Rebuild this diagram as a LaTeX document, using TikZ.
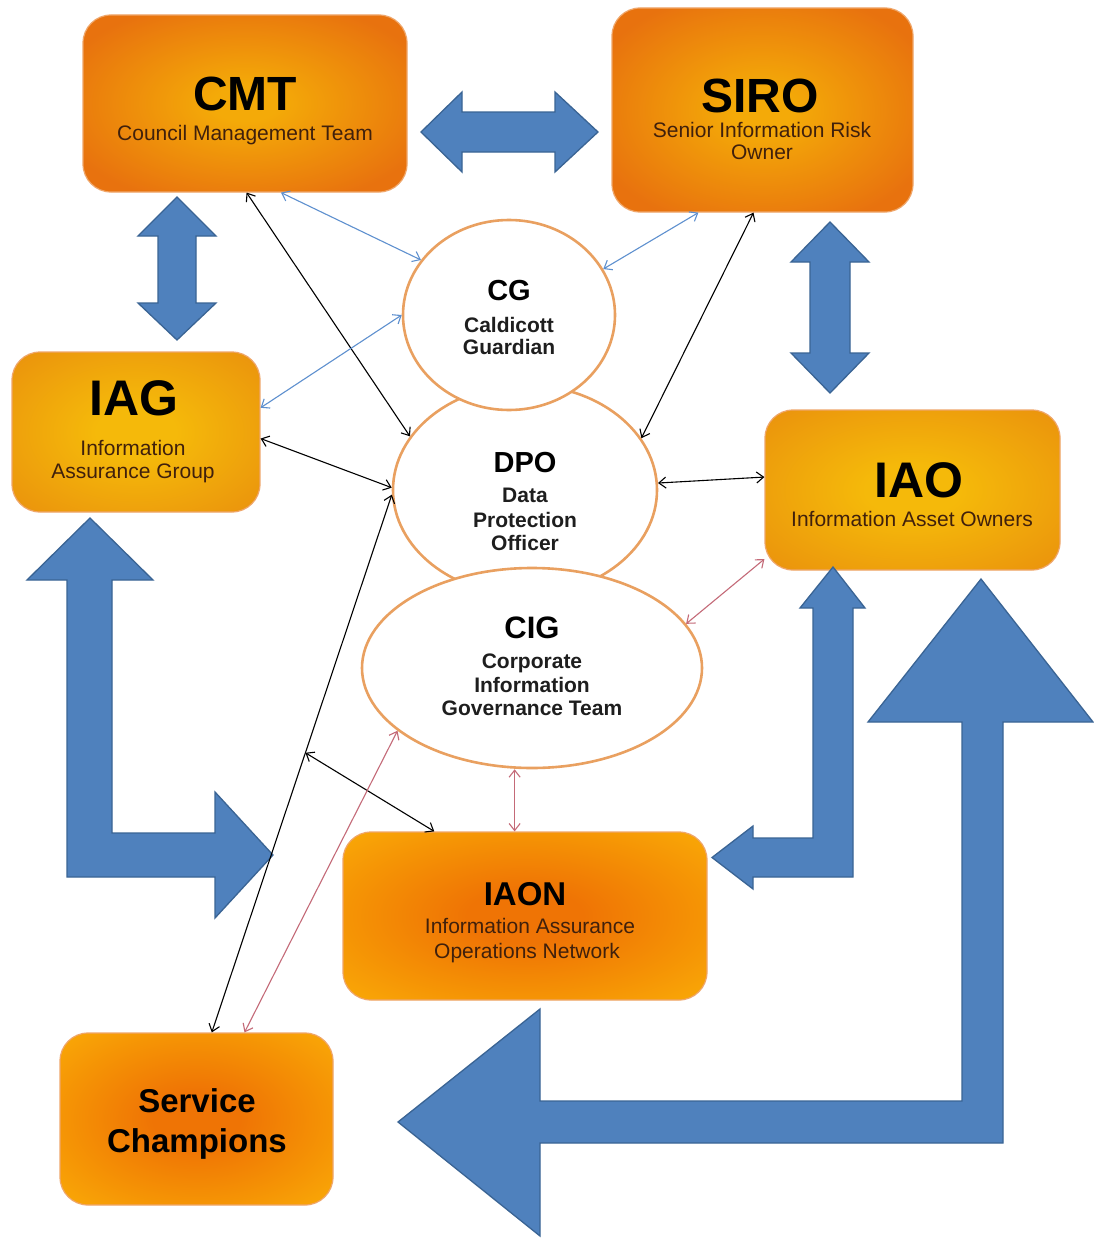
\documentclass[tikz,border=0pt]{standalone}
\usepackage{fontspec}
\setmainfont{Liberation Sans}
\usetikzlibrary{shapes.geometric,arrows.meta,calc}
\definecolor{tA}{HTML}{F4AA08}
\definecolor{tB}{HTML}{E8720E}
\definecolor{mA}{HTML}{F5B90A}
\definecolor{mB}{HTML}{E6840E}
\definecolor{bA}{HTML}{EF7405}
\definecolor{bB}{HTML}{FDBC06}
\definecolor{boxedge}{HTML}{EFA66A}
\definecolor{elledge}{HTML}{E9A060}
\definecolor{bigblue}{HTML}{4F81BD}
\definecolor{bigblueedge}{HTML}{3A6494}
\definecolor{thinblue}{HTML}{5E90CF}
\definecolor{thinred}{HTML}{C46A78}
\definecolor{subc}{HTML}{40200C}
\definecolor{elltext}{HTML}{1E1E1E}
\pgfdeclareradialshading{topshade}{\pgfpointorigin}{color(0bp)=(tA); color(5bp)=(tA); color(30bp)=(tB); color(80bp)=(tB)}
\pgfdeclareradialshading{midshade}{\pgfpointorigin}{color(0bp)=(mA); color(8bp)=(mA); color(45bp)=(mB); color(80bp)=(mB)}
\pgfdeclareradialshading{lowshade}{\pgfpointorigin}{color(0bp)=(bA); color(8bp)=(bA); color(45bp)=(bB); color(80bp)=(bB)}
\tikzset{
  box/.style={rectangle, rounded corners=28pt, draw=boxedge, line width=1.2pt, shade, inner sep=0pt},
  topbox/.style={box, shading=topshade},
  midbox/.style={box, shading=midshade},
  lowbox/.style={box, shading=lowshade},
  ell/.style={ellipse, draw=elledge, line width=2.6pt, fill=white, inner sep=0pt},
  title/.style={font=\fontsize{48}{50}\selectfont\bfseries, text=black, inner sep=0pt, anchor=base},
  sub/.style={font=\fontsize{21}{24}\selectfont, text=subc, inner sep=0pt, anchor=base},
  etitle/.style={font=\fontsize{29}{32}\selectfont\bfseries, text=black, inner sep=0pt, anchor=base},
  esub/.style={font=\fontsize{21}{24}\selectfont\bfseries, text=elltext, inner sep=0pt, anchor=base},
  bigarrow/.style={fill=bigblue, draw=bigblueedge, line width=1.3pt, line join=miter},
  blk/.style={draw=black, line width=1.1pt, <->, >={Straight Barb[length=7pt,width=11pt]}},
  blu/.style={draw=thinblue, line width=1.1pt, <->, >={Straight Barb[length=7pt,width=11pt]}},
  rd/.style={draw=thinred, line width=1.1pt, <->, >={Straight Barb[length=7pt,width=11pt]}}
}
\begin{document}
\begin{tikzpicture}[x=1pt,y=-1pt]
\useasboundingbox (0,0) rectangle (1093,1239);
\fill[white] (0,0) rectangle (1093,1239);

% boxes
\node[topbox, minimum width=324pt, minimum height=177pt] (cmt) at (245,103.5) {};
\node[topbox, minimum width=301pt, minimum height=204pt] (siro) at (762.5,110) {};
\node[midbox, minimum width=248pt, minimum height=160pt] (iag) at (136,432) {};
\node[midbox, minimum width=295pt, minimum height=160pt] (iao) at (912.5,490) {};
\node[lowbox, minimum width=364pt, minimum height=168pt] (iaon) at (525,916) {};
\node[lowbox, minimum width=273pt, minimum height=172pt] (sc) at (196.5,1119) {};

% ellipses
\node[ell, minimum width=264pt, minimum height=210pt] (dpo) at (525,490) {};
\node[ell, minimum width=212pt, minimum height=190pt] (cg) at (509,315) {};
\node[ell, minimum width=340pt, minimum height=200pt] (cig) at (532,668) {};

% texts
\node[title] (cmt-t) at (245,110) {CMT};
\node[sub] (cmt-s) at (245,140) {Council Management Team};
\node[title] (siro-t) at (760,112) {SIRO};
\node[sub] (siro-s1) at (762,137) {Senior Information Risk};
\node[sub] (siro-s2) at (762,159) {Owner};
\node[title, font=\fontsize{50}{52}\selectfont\bfseries] (iag-t) at (134,415) {IAG};
\node[sub] (iag-s1) at (133,455) {Information};
\node[sub] (iag-s2) at (133,478) {Assurance Group};
\node[title, font=\fontsize{50}{52}\selectfont\bfseries] (iao-t) at (919,497) {IAO};
\node[sub] (iao-s) at (912,526) {Information Asset Owners};
\node[title, font=\fontsize{33}{36}\selectfont\bfseries] (iaon-t) at (525,905) {IAON};
\node[sub] (iaon-s1) at (530,933) {Information Assurance};
\node[sub] (iaon-s2) at (527,958) {Operations Network};
\node[title, font=\fontsize{33}{36}\selectfont\bfseries] (sc-t1) at (197,1112) {Service};
\node[title, font=\fontsize{33}{36}\selectfont\bfseries] (sc-t2) at (197,1152) {Champions};

\node[etitle] (cg-t) at (509,300) {CG};
\node[esub] (cg-s1) at (509,332) {Caldicott};
\node[esub] (cg-s2) at (509,354) {Guardian};
\node[etitle] (dpo-t) at (525,472) {DPO};
\node[esub] (dpo-s1) at (525,502) {Data};
\node[esub] (dpo-s2) at (525,527) {Protection};
\node[esub] (dpo-s3) at (525,550) {Officer};
\node[etitle, font=\fontsize{31}{34}\selectfont\bfseries] (cig-t) at (532,638) {CIG};
\node[esub] (cig-s1) at (532,668) {Corporate};
\node[esub] (cig-s2) at (532,692) {Information};
\node[esub] (cig-s3) at (532,715) {Governance Team};

% big block arrows
\draw[bigarrow] (421,132) -- (462,92) -- (462,112) -- (555,112) -- (555,92) -- (598,132)
  -- (555,172) -- (555,152) -- (462,152) -- (462,172) -- cycle;
\draw[bigarrow] (177,197) -- (216,236) -- (196,236) -- (196,303) -- (216,303) -- (177,340)
  -- (138,303) -- (158,303) -- (158,236) -- (138,236) -- cycle;
\draw[bigarrow] (830,222) -- (869,262) -- (850,262) -- (850,353) -- (869,353) -- (830,393)
  -- (791,353) -- (810,353) -- (810,262) -- (791,262) -- cycle;
\draw[bigarrow] (90,518) -- (153,580) -- (112,580) -- (112,833) -- (215,833) -- (215,792)
  -- (273,855) -- (215,918) -- (215,877) -- (67,877) -- (67,580) -- (27,580) -- cycle;
\draw[bigarrow] (833,567) -- (865,608) -- (853,608) -- (853,877) -- (753,877) -- (753,889)
  -- (712,857.5) -- (753,826) -- (753,838) -- (813,838) -- (813,608) -- (800,608) -- cycle;
\draw[bigarrow] (981,579) -- (1093,722) -- (1003,722) -- (1003,1143) -- (540,1143) -- (540,1236)
  -- (398,1122) -- (540,1009) -- (540,1101) -- (962,1101) -- (962,722) -- (868,722) -- cycle;

% thin connectors
\draw[blk] (cmt.-89) -- (dpo.155);
\draw[blk] (siro.-95) -- (dpo.24);
\draw[blk] (iag.-3) -- (dpo.179);
\draw[blk] (iao.175) -- (dpo.3.5);
\draw[blk] (sc.80) -- (dpo.182);
\coordinate (emid) at ($(sc.80)!0.52!(dpo.182)$);
\draw[blk] (iaon.137) -- (emid);
\draw[blu] (cmt.-68) -- (cg.148);
\draw[blu] (siro.-122) -- (cg.26);
\draw[blu] (iag.11) -- (cg.180);
\draw[rd] (iao.205) -- (cig.16);
\draw[rd] (iaon.97) -- (iaon.97 |- cig.south);
\draw[rd] (sc.61) -- (cig.205);
\end{tikzpicture}
\end{document}
